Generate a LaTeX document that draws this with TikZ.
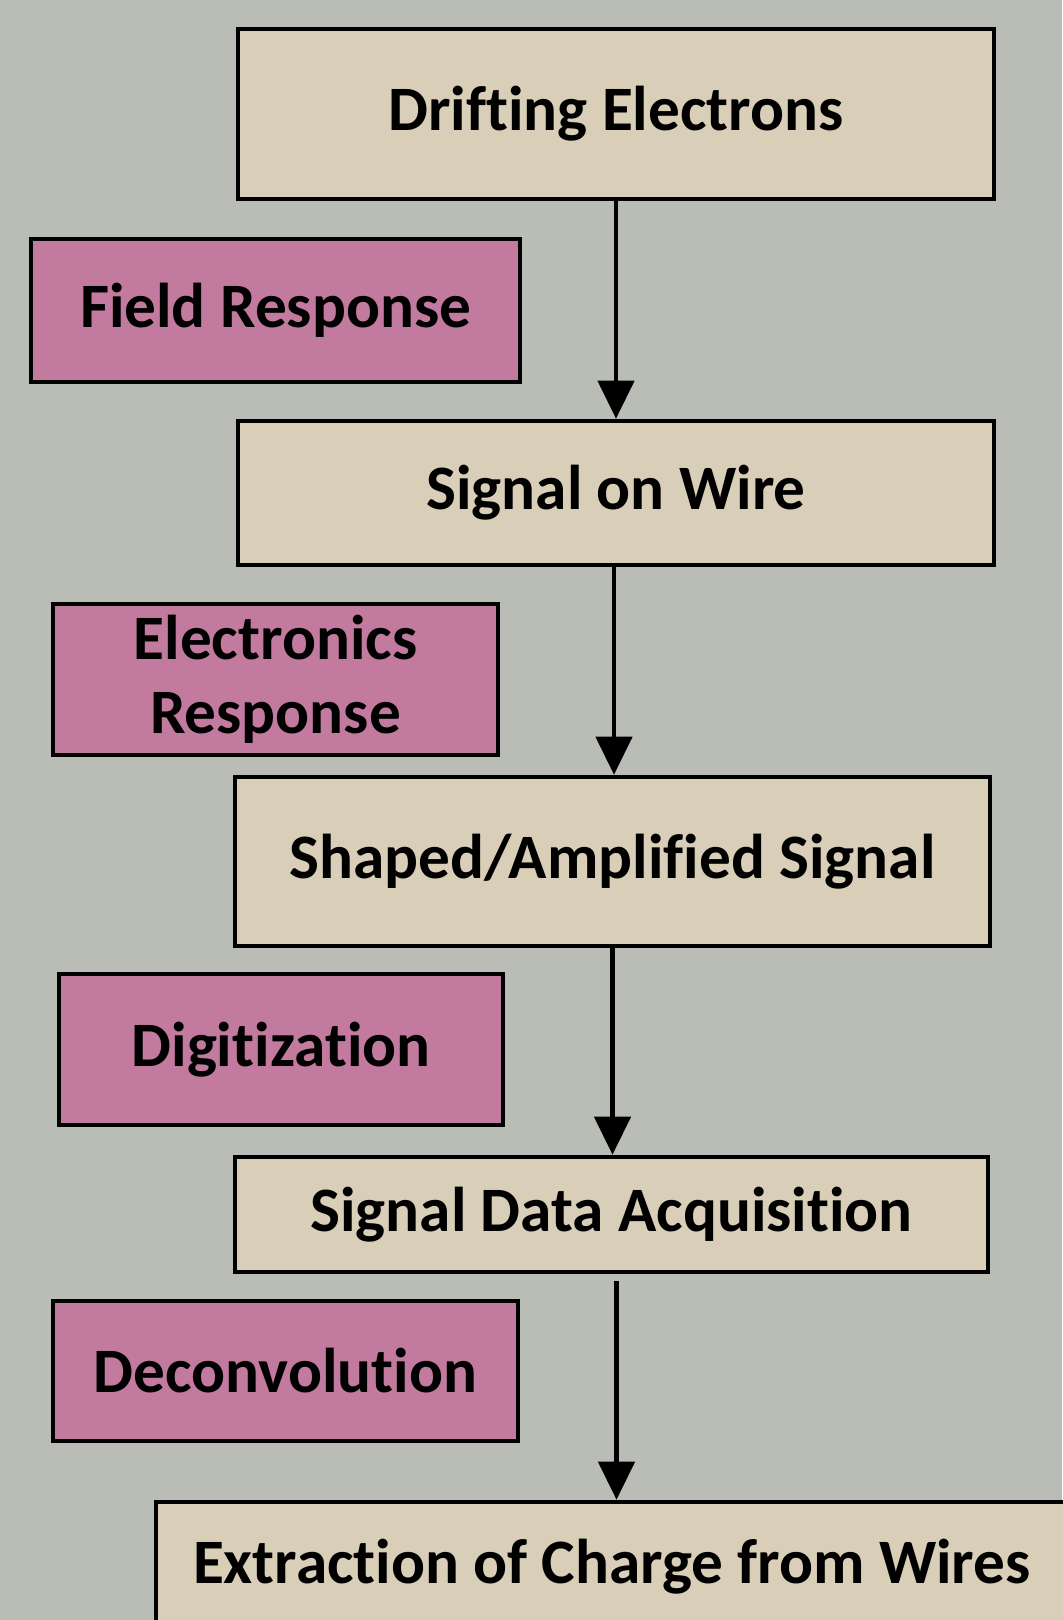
\documentclass[tikz,border=0pt]{standalone}
\usepackage{fontspec}
\setmainfont{Carlito}[Ligatures=NoCommon]
\usepackage{tikz}
\usetikzlibrary{arrows.meta,positioning}
\definecolor{bggray}{HTML}{BABDB5}
\definecolor{stagebeige}{HTML}{D9CEB8}
\definecolor{respink}{HTML}{C27A9F}

\begin{document}
\begin{tikzpicture}[
  stage/.style={rectangle, draw=black, fill=stagebeige, line width=1.3pt, inner sep=0pt, align=center, font=\fontsize{18}{21}\selectfont\bfseries},
  effect/.style={stage, fill=respink},
  arrow/.style={-{Triangle[length=3.8mm,width=3.6mm]}, line width=1.3pt, draw=black}
]
\fill[bggray] (0,0) rectangle (10.62,-16.2);
\useasboundingbox (0,0) rectangle (10.62,-16.2);
% main chain
\node[stage, minimum width=7.56cm, minimum height=1.70cm] (drift) at (6.16,-1.14) {Drifting Electrons};
\node[stage, minimum width=7.56cm, minimum height=1.44cm] (wire) at (6.16,-4.93) {Signal on Wire};
\node[stage, minimum width=7.55cm, minimum height=1.69cm] (shaped) at (6.125,-8.615) {Shaped/Amplified Signal};
\node[stage, minimum width=7.53cm, minimum height=1.15cm] (acq) at (6.115,-12.145) {Signal Data Acquisition};
\node[stage, minimum width=9.12cm, minimum height=1.30cm] (extract) at (6.12,-15.67) {Extraction of Charge from Wires};
% responses on the left
\node[effect, minimum width=4.89cm, minimum height=1.43cm] (field) at (2.755,-3.105) {Field Response};
\node[effect, minimum width=4.45cm, minimum height=1.51cm] (elec) at (2.755,-6.795) {Electronics\\Response};
\node[effect, minimum width=4.44cm, minimum height=1.51cm] (digi) at (2.81,-10.495) {Digitization};
\node[effect, minimum width=4.65cm, minimum height=1.40cm] (deconv) at (2.855,-13.71) {Deconvolution};
\draw[arrow] (drift) -- (wire);
\draw[arrow] ([xshift=-0.02cm]wire.south) -- ([xshift=-0.02cm]wire.south |- shaped.north);
\draw[arrow] (shaped.south) -- (shaped.south |- acq.north);
\draw[arrow, shorten <=0.07cm] ([xshift=0.05cm]acq.south) -- ([xshift=0.05cm]acq.south |- extract.north);
\end{tikzpicture}
\end{document}
